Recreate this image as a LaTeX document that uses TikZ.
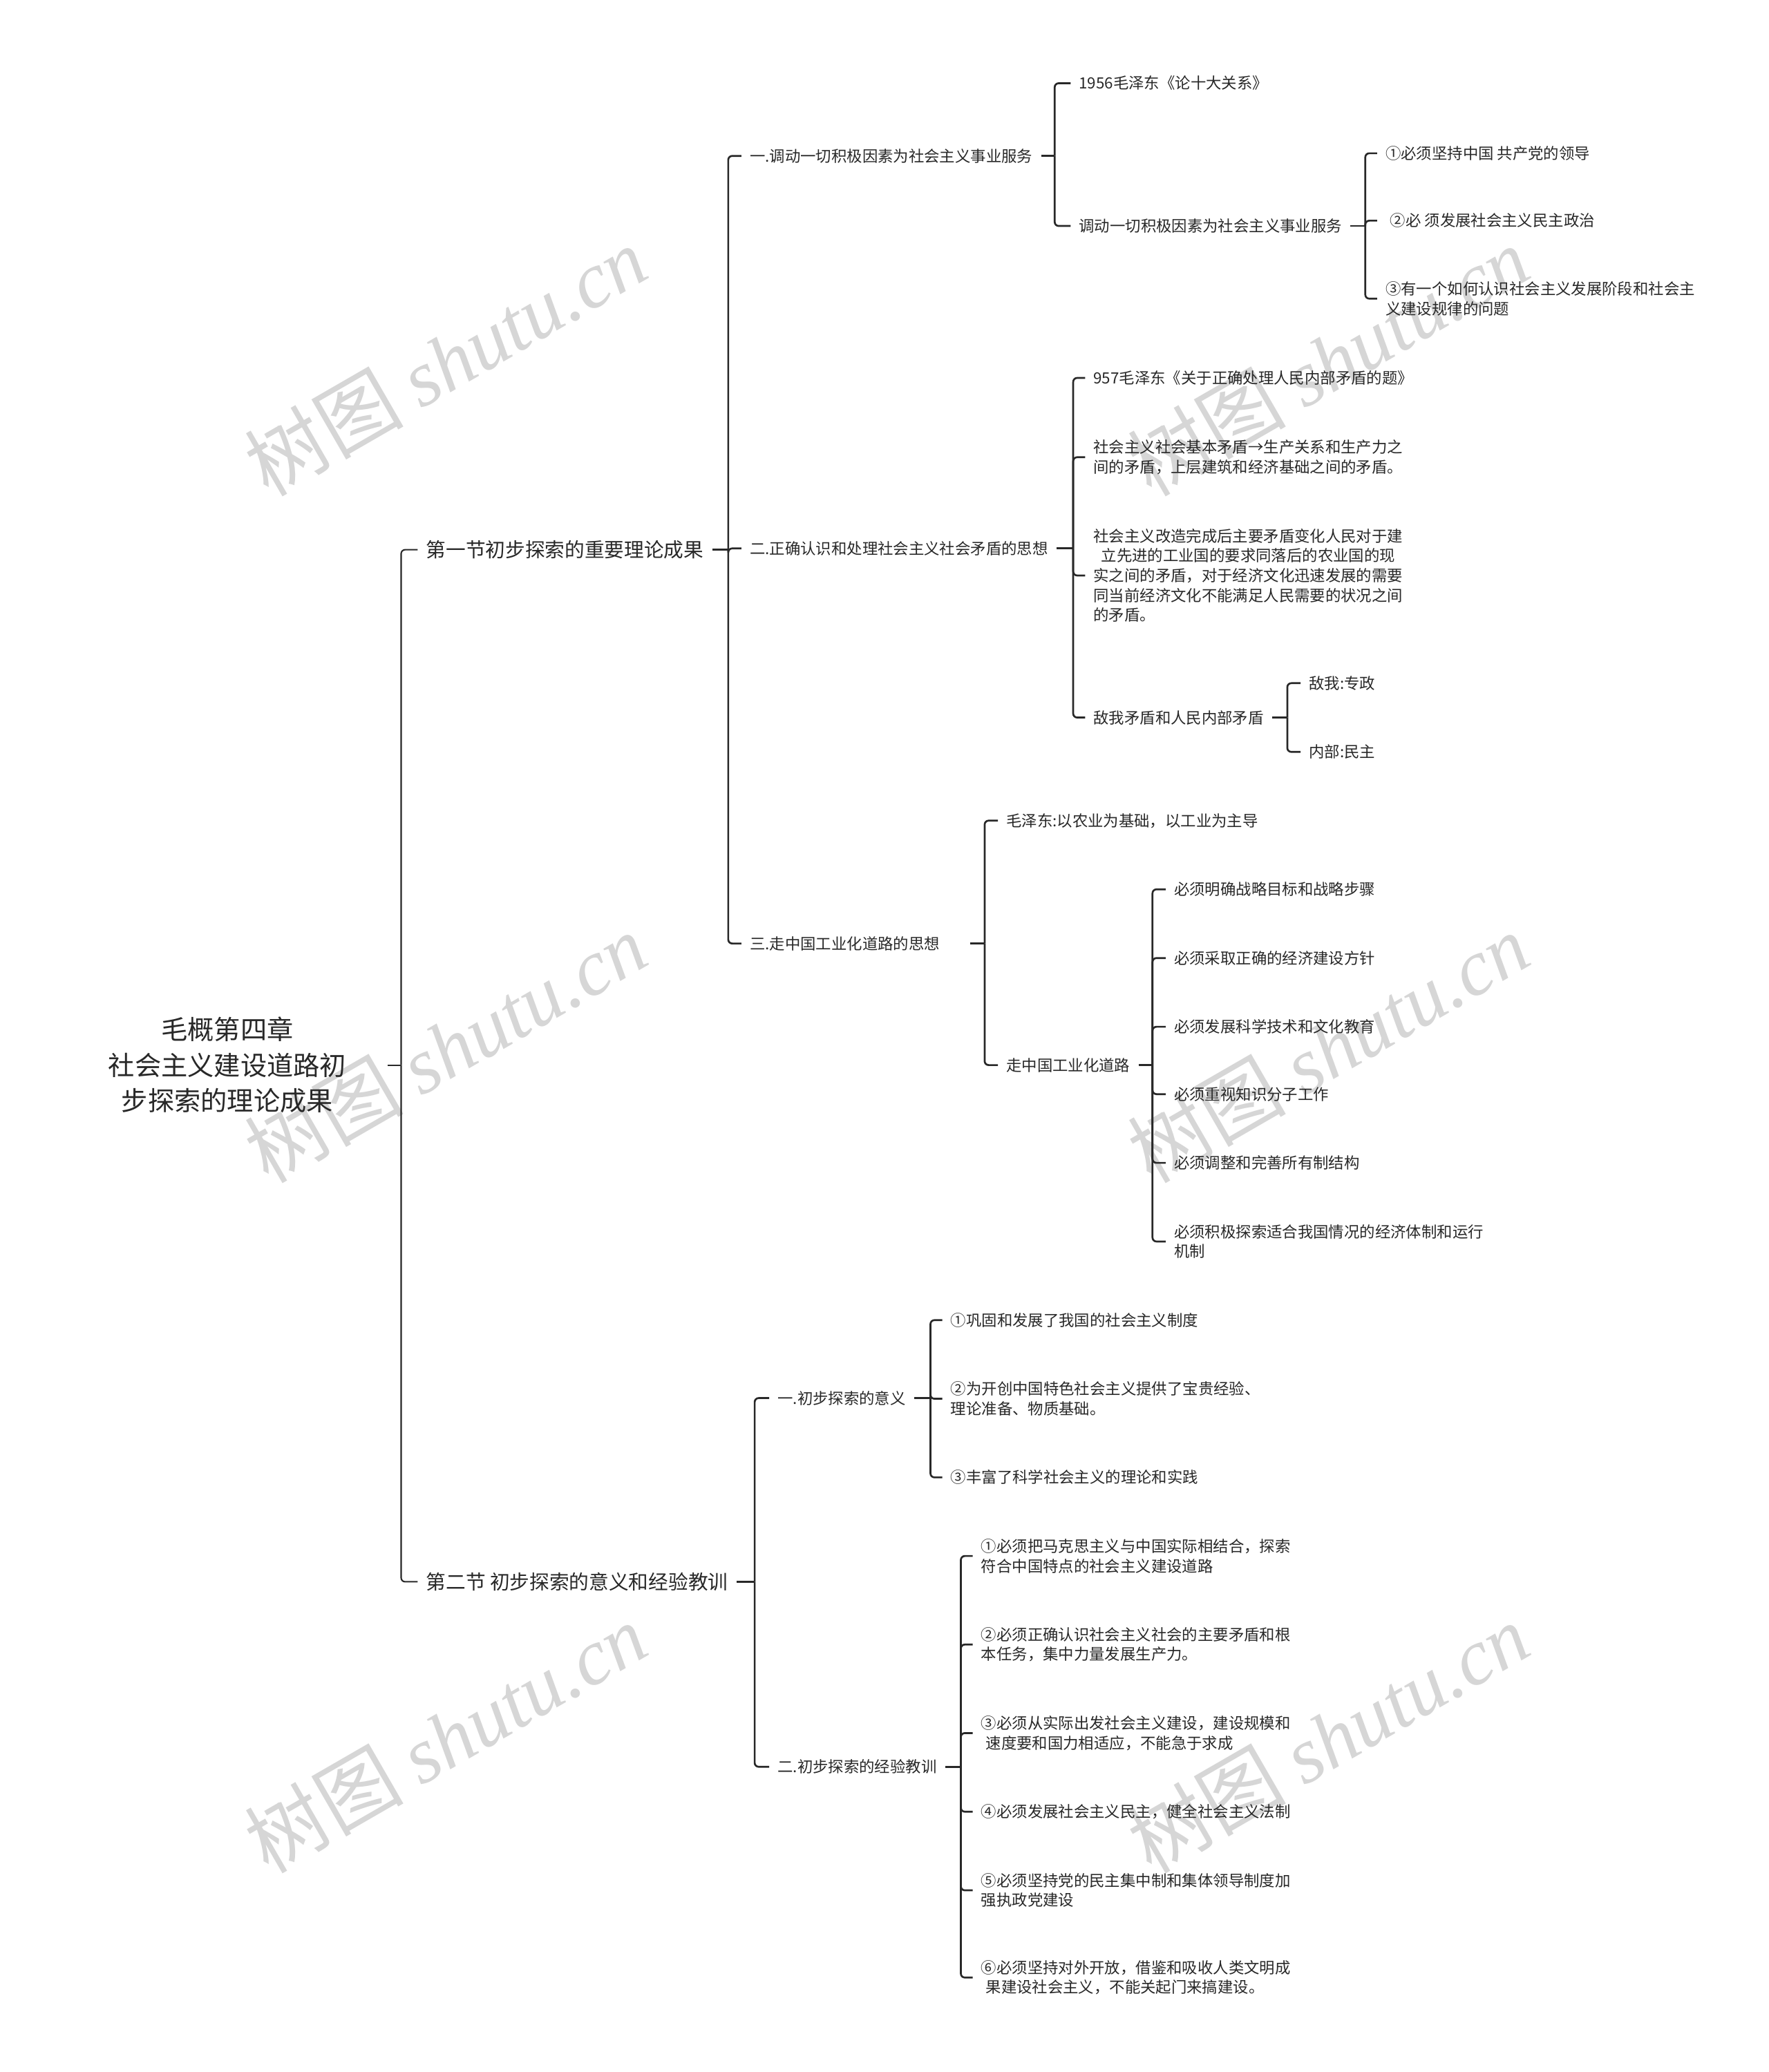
\documentclass[tikz,border=0pt]{standalone}
\usepackage{fontspec}
\setmainfont{Noto Sans CJK SC}
\newfontfamily\wmlatin{Liberation Serif}
\definecolor{txt}{RGB}{40,40,40}
\definecolor{ln}{RGB}{40,40,40}
\definecolor{wmc}{RGB}{214,214,214}
\newcommand\stub[2]{\draw[conn] (#1.east) -- (#1.east -| #2);}
\newcommand\branch[3]{\draw[conn] (#1.east -| #3) |- (#2.west);}
\begin{document}
\begin{tikzpicture}[x=0.5pt,y=-0.5pt,
  every node/.style={text=txt, inner ysep=1pt, inner xsep=3pt},
  leaf/.style={anchor=west, font=\fontsize{5.85pt}{7.5pt}\selectfont, align=left},
  sec/.style={anchor=west, font=\fontsize{7.5pt}{9pt}\selectfont, align=left},
  rootn/.style={font=\fontsize{10pt}{13.5pt}\selectfont, align=center, minimum width=121pt, inner xsep=0pt},
  conn/.style={draw=ln, line width=0.7pt, rounded corners=1.5pt},
  thinconn/.style={conn, line width=0.55pt},
  wm/.style={text=wmc, rotate=30, font=\fontsize{30pt}{34pt}\selectfont, inner sep=0pt}
]
\fill[white] (0,0) rectangle (1338,1568);
\useasboundingbox (0,0) rectangle (1338,1568);

% watermarks
\node[wm] (wm1) at (337,273) {树图 {\wmlatin\itshape shutu.cn}};
\node[wm] (wm2) at (1005,273) {树图 {\wmlatin\itshape shutu.cn}};
\node[wm] (wm3) at (337,793) {树图 {\wmlatin\itshape shutu.cn}};
\node[wm] (wm4) at (1005,793) {树图 {\wmlatin\itshape shutu.cn}};
\node[wm] (wm5) at (337,1315) {树图 {\wmlatin\itshape shutu.cn}};
\node[wm] (wm6) at (1005,1315) {树图 {\wmlatin\itshape shutu.cn}};

% vertical positions of brackets
\coordinate (v0) at (303.5,0);
\coordinate (vL1a) at (551,0);
\coordinate (vA1) at (798,0);
\coordinate (vA1b) at (1033,0);
\coordinate (vA2) at (812,0);
\coordinate (vA2d) at (974,0);
\coordinate (vA3) at (745,0);
\coordinate (vA3b) at (872,0);
\coordinate (vL1b) at (571,0);
\coordinate (vB1) at (704,0);
\coordinate (vB2) at (727,0);

% nodes
\node[rootn] (root) at (172,806) {毛概第四章\\社会主义建设道路初\\步探索的理论成果};

\node[sec] (L1a) at (316,416) {第一节初步探索的重要理论成果};
\node[sec] (L1b) at (316,1197) {第二节 初步探索的意义和经验教训};

\node[leaf] (A1) at (561,118) {一.调动一切积极因素为社会主义事业服务};
\node[leaf] (A2) at (561,415) {二.正确认识和处理社会主义社会矛盾的思想};
\node[leaf, text width=80pt] (A3) at (561,714) {三.走中国工业化道路的思想};

\node[leaf] (A1a) at (810,63) {1956毛泽东《论十大关系》};
\node[leaf] (A1b) at (810,171) {调动一切积极因素为社会主义事业服务};
\node[leaf] (A1b1) at (1042,116) {①必须坚持中国 共产党的领导};
\node[leaf] (A1b2) at (1042,167) {\hspace*{0.3em}②必 须发展社会主义民主政治};
\node[leaf] (A1b3) at (1042,226) {③有一个如何认识社会主义发展阶段和社会主\\义建设规律的问题};

\node[leaf] (A2a) at (821,286) {957毛泽东《关于正确处理人民内部矛盾的题》};
\node[leaf] (A2b) at (821,346) {社会主义社会基本矛盾→生产关系和生产力之\\间的矛盾，上层建筑和经济基础之间的矛盾。};
\node[leaf] (A2c) at (821,435.5) {社会主义改造完成后主要矛盾变化人民对于建\\\hspace*{0.5em}立先进的工业国的要求同落后的农业国的现\\实之间的矛盾，对于经济文化迅速发展的需要\\同当前经济文化不能满足人民需要的状况之间\\的矛盾。};
\node[leaf] (A2d) at (821,543) {敌我矛盾和人民内部矛盾};
\node[leaf] (A2d1) at (984,517) {敌我:专政};
\node[leaf] (A2d2) at (984,569) {内部:民主};

\node[leaf] (A3a) at (755,621) {毛泽东:以农业为基础，以工业为主导};
\node[leaf] (A3b) at (755,806) {走中国工业化道路};
\node[leaf] (A3b1) at (882,673) {必须明确战略目标和战略步骤};
\node[leaf] (A3b2) at (882,725) {必须采取正确的经济建设方针};
\node[leaf] (A3b3) at (882,777) {必须发展科学技术和文化教育};
\node[leaf] (A3b4) at (882,828) {必须重视知识分子工作};
\node[leaf] (A3b5) at (882,880) {必须调整和完善所有制结构};
\node[leaf] (A3b6) at (882,939.5) {必须积极探索适合我国情况的经济体制和运行\\机制};

\node[leaf] (B1) at (582,1058) {一.初步探索的意义};
\node[leaf] (B1a) at (713,999) {①巩固和发展了我国的社会主义制度};
\node[leaf] (B1b) at (713,1058.5) {②为开创中国特色社会主义提供了宝贵经验、\\理论准备、物质基础。};
\node[leaf] (B1c) at (713,1118) {③丰富了科学社会主义的理论和实践};

\node[leaf] (B2) at (582,1337) {二.初步探索的经验教训};
\node[leaf] (B2a) at (736,1177.5) {①必须把马克思主义与中国实际相结合，探索\\符合中国特点的社会主义建设道路};
\node[leaf] (B2b) at (736,1244.5) {②必须正确认识社会主义社会的主要矛盾和根\\本任务，集中力量发展生产力。};
\node[leaf] (B2c) at (736,1311.5) {③必须从实际出发社会主义建设，建设规模和\\\hspace*{0.3em}速度要和国力相适应，不能急于求成};
\node[leaf] (B2d) at (736,1371) {④必须发展社会主义民主，健全社会主义法制};
\node[leaf] (B2e) at (736,1430.5) {⑤必须坚持党的民主集中制和集体领导制度加\\强执政党建设};
\node[leaf] (B2f) at (736,1496.5) {⑥必须坚持对外开放，借鉴和吸收人类文明成\\\hspace*{0.3em}果建设社会主义，不能关起门来搞建设。};

% connectors
\draw[thinconn] (root.east) -- (root.east -| v0);
\draw[thinconn] (root.east -| v0) |- (L1a.west);
\draw[thinconn] (root.east -| v0) |- (L1b.west);

\stub{L1a}{vL1a}
\branch{L1a}{A1}{vL1a}
\branch{L1a}{A2}{vL1a}
\branch{L1a}{A3}{vL1a}

\stub{A1}{vA1}
\branch{A1}{A1a}{vA1}
\branch{A1}{A1b}{vA1}
\stub{A1b}{vA1b}
\branch{A1b}{A1b1}{vA1b}
\branch{A1b}{A1b2}{vA1b}
\branch{A1b}{A1b3}{vA1b}

\stub{A2}{vA2}
\branch{A2}{A2a}{vA2}
\branch{A2}{A2b}{vA2}
\branch{A2}{A2c}{vA2}
\branch{A2}{A2d}{vA2}
\stub{A2d}{vA2d}
\branch{A2d}{A2d1}{vA2d}
\branch{A2d}{A2d2}{vA2d}

\stub{A3}{vA3}
\branch{A3}{A3a}{vA3}
\branch{A3}{A3b}{vA3}
\stub{A3b}{vA3b}
\branch{A3b}{A3b1}{vA3b}
\branch{A3b}{A3b2}{vA3b}
\branch{A3b}{A3b3}{vA3b}
\branch{A3b}{A3b4}{vA3b}
\branch{A3b}{A3b5}{vA3b}
\branch{A3b}{A3b6}{vA3b}

\stub{L1b}{vL1b}
\branch{L1b}{B1}{vL1b}
\branch{L1b}{B2}{vL1b}

\stub{B1}{vB1}
\branch{B1}{B1a}{vB1}
\branch{B1}{B1b}{vB1}
\branch{B1}{B1c}{vB1}

\stub{B2}{vB2}
\branch{B2}{B2a}{vB2}
\branch{B2}{B2b}{vB2}
\branch{B2}{B2c}{vB2}
\branch{B2}{B2d}{vB2}
\branch{B2}{B2e}{vB2}
\branch{B2}{B2f}{vB2}
\end{tikzpicture}
\end{document}
